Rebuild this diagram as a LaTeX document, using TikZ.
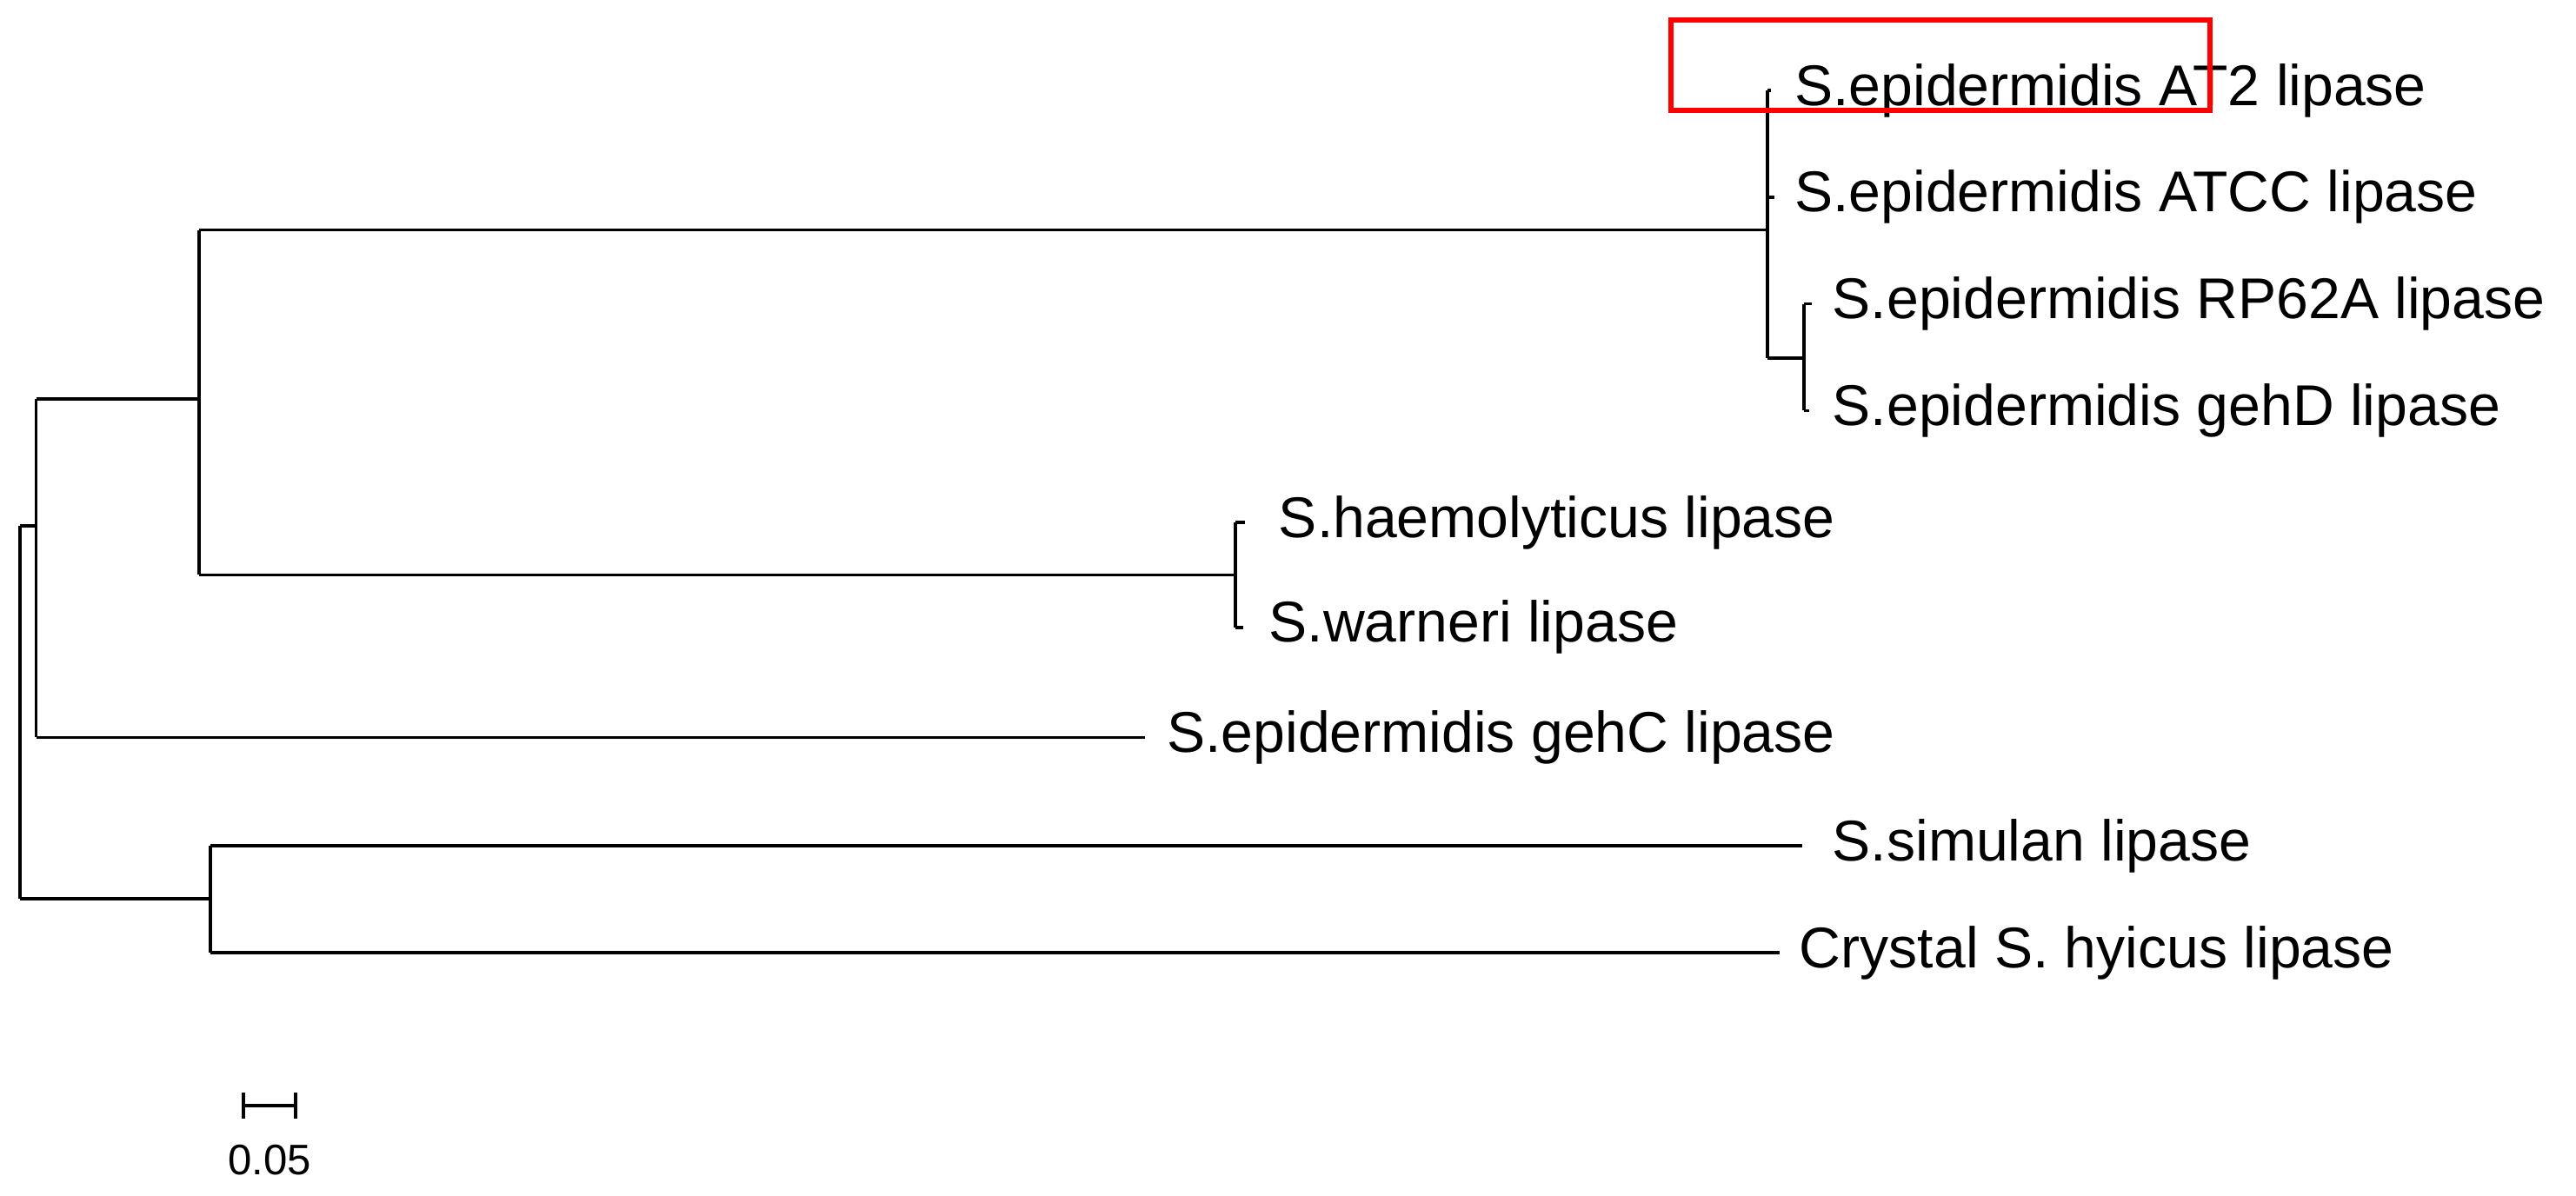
\documentclass[tikz,border=0pt]{standalone}
\usepackage{fontspec}
\setmainfont{Liberation Sans}
\begin{document}
\begin{tikzpicture}[x=0.5pt,y=-0.5pt,
  br/.style={line width=1pt,black},
  lbl/.style={anchor=west,inner sep=0pt,font=\fontsize{17.5}{20}\selectfont},
  sc/.style={font=\fontsize{13}{15}\selectfont,inner sep=0pt}]
\useasboundingbox (0,0) rectangle (1568,728);
% leaf labels
\node[lbl] (at2) at (1092,55) {S.epidermidis AT2 lipase};
\node[lbl] (atcc) at (1092,120) {S.epidermidis ATCC lipase};
\node[lbl] (rp) at (1115,185) {S.epidermidis RP62A lipase};
\node[lbl] (gehd) at (1115,250) {S.epidermidis gehD lipase};
\node[lbl] (haem) at (778,318) {S.haemolyticus lipase};
\node[lbl] (warn) at (772,382) {S.warneri lipase};
\node[lbl] (gehc) at (710,449) {S.epidermidis gehC lipase};
\node[lbl] (sim) at (1115,515) {S.simulan lipase};
\node[lbl] (cry) at (1095,580) {Crystal S. hyicus lipase};
% tips
\coordinate (tat2) at (1078,55);
\coordinate (tatcc) at (1080,120);
\coordinate (trp) at (1103,185);
\coordinate (tgehd) at (1101,250);
\coordinate (thaem) at (758,318);
\coordinate (twarn) at (757,382);
\coordinate (tgehc) at (697,449);
\coordinate (tsim) at (1097,515);
\coordinate (tcry) at (1083,580);
% internal nodes
\coordinate (nrg) at (1098,218);
\coordinate (nepi) at (1076,140);
\coordinate (nhw) at (752,350);
\coordinate (nup) at (121,243);
\coordinate (nmid) at (22,320);
\coordinate (nlow) at (128,547);
\coordinate (root) at (12,434);
% branches
\draw[br] (nrg|-trp) -- (trp);
\draw[br] (nrg|-tgehd) -- (tgehd);
\draw[br] (nrg|-trp) -- (nrg|-tgehd);
\draw[br] (nepi|-tat2) -- (tat2);
\draw[br] (nepi|-tatcc) -- (tatcc);
\draw[br] (nepi|-nrg) -- (nrg);
\draw[br] (nepi|-tat2) -- (nepi|-nrg);
\draw[br] (nhw|-thaem) -- (thaem);
\draw[br] (nhw|-twarn) -- (twarn);
\draw[br] (nhw|-thaem) -- (nhw|-twarn);
\draw[br] (nup|-nepi) -- (nepi);
\draw[br] (nup|-nhw) -- (nhw);
\draw[br] (nup|-nepi) -- (nup|-nhw);
\draw[br] (nmid|-nup) -- (nup);
\draw[br] (nmid|-tgehc) -- (tgehc);
\draw[br] (nmid|-nup) -- (nmid|-tgehc);
\draw[br] (nlow|-tsim) -- (tsim);
\draw[br] (nlow|-tcry) -- (tcry);
\draw[br] (nlow|-tsim) -- (nlow|-tcry);
\draw[br] (root|-nmid) -- (nmid);
\draw[br] (root|-nlow) -- (nlow);
\draw[br] (root|-nmid) -- (root|-nlow);
% scale bar
\coordinate (s1) at (148,673);
\coordinate (s2) at (180,673);
\draw[br] (s1) -- (s2);
\draw[br] ([yshift=4pt]s1) -- ([yshift=-4pt]s1);
\draw[br] ([yshift=4pt]s2) -- ([yshift=-4pt]s2);
\node[sc] (scl) at (164,706) {0.05};
% highlight box
\draw[red,line width=1.6pt] (1017,12) rectangle (1345,67);
\end{tikzpicture}
\end{document}
